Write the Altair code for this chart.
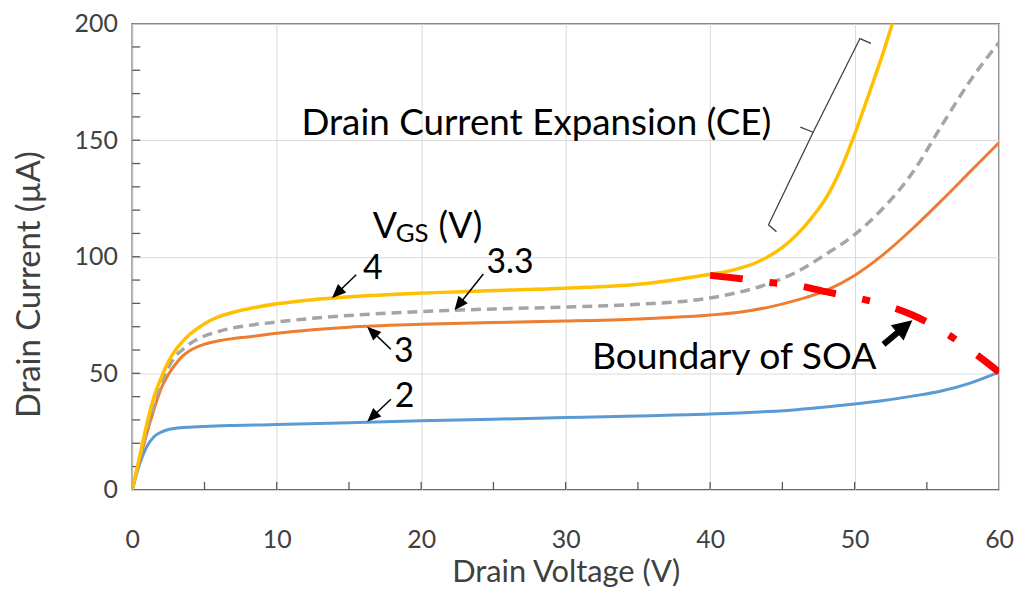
import math
import altair as alt
import pandas as pd

# ---------------- data ----------------
V_vgs2 = [0, 0.5, 1, 1.5, 2, 2.5, 3, 4, 5, 7, 10, 15, 20, 25, 30, 35, 40, 42, 44, 46, 48, 50, 52, 54, 56, 58, 60]
I_vgs2 = [0, 11, 18.5, 22.8, 24.8, 25.9, 26.4, 26.9, 27.2, 27.6, 28.0, 28.8, 29.6, 30.3, 31.0, 31.7, 32.5,
          33.0, 33.6, 34.4, 35.5, 36.8, 38.3, 40.2, 42.4, 45.8, 50.5]
V_vgs3 = [0, 0.5, 1, 1.5, 2, 2.5, 3, 3.5, 4, 5, 6, 7, 8, 10, 12.5, 15, 20, 25, 30, 35, 40, 42, 44, 46, 48,
          50, 52, 54, 56, 58, 60]
I_vgs3 = [0, 12.5, 24, 34.5, 43.5, 49.5, 54, 57.5, 59.8, 62.5, 64, 64.9, 65.6, 67.2, 68.7, 69.8, 71.0, 71.8,
          72.4, 73.3, 75.0, 76.2, 78.3, 81.4, 85.5, 92, 101, 112, 124, 136.5, 149]
V_vgs33 = [0, 0.5, 1, 1.5, 2, 2.5, 3, 3.5, 4, 5, 6, 7, 8, 10, 12.5, 15, 20, 25, 30, 35, 40, 42, 44, 46, 48,
           50, 52, 54, 56, 58, 60]
I_vgs33 = [0, 13, 25.5, 36.5, 46, 52.5, 57.4, 60.2, 62.7, 66, 68, 69.5, 70.5, 72, 73.6, 74.8, 76.5, 77.6, 78.4,
           79.6, 82.3, 84.8, 88.3, 93.5, 101, 109.5, 121, 136, 156, 175.5, 192]
V_vgs4 = [0, 0.5, 1, 1.5, 2, 2.5, 3, 3.5, 4, 5, 6, 7, 8, 10, 12.5, 15, 20, 25, 30, 35, 40, 41, 42, 43, 44,
          45, 46, 47, 48, 49, 50, 51, 52, 53]
I_vgs4 = [0, 14, 28, 39.8, 48, 55, 60, 63.8, 66.8, 71.3, 74.3, 76.2, 77.6, 79.8, 81.6, 82.8, 84.4, 85.5,
          86.5, 88.2, 92.5, 93.5, 95, 97, 100, 104, 109.5, 116.5, 125, 137, 152.5, 170, 188, 208]
SOA_V = [40, 42, 44, 46, 48, 50, 52, 54, 56, 58, 60]
SOA_I = [92, 90.7, 89, 87.8, 85, 82.5, 79.5, 75, 68.5, 60, 50.5]

x_ticks = [0, 10, 20, 30, 40, 50, 60]
y_ticks = [0, 50, 100, 150, 200]
x_minor = [5, 10, 15, 20, 25, 30, 35, 40, 45, 50, 55]
y_minor = [10, 20, 30, 40, 50, 60, 70, 80, 90, 100, 110, 120, 130, 140, 150, 160, 170, 180, 190]

# annotation arrows: tail (V, I) -> head (V, I)
arrow_tail_V = [15.5, 17.9, 17.9, 24.3]
arrow_tail_I = [92.3, 60.3, 38.9, 92.6]
arrow_head_V = [13.83, 16.26, 16.26, 22.3]
arrow_head_I = [82.3, 70.0, 29.2, 77.0]
soa_arrow_tail = (52.0, 62.4)
soa_arrow_head = (54.0, 72.8)

# bracket for current expansion
bracket_V = [44.59, 44.04, 47.13, 50.37, 51.13]
bracket_I = [110.7, 113.7, 153.4, 193.6, 191.5]
bracket_tick_V = [47.13, 46.24]
bracket_tick_I = [153.4, 155.6]

FONT = "Lato"
W, H = 872, 469
PXV = W / 60.0
PXI = H / 200.0

xs = alt.Scale(domain=[0, 60], nice=False, zero=False)
ys = alt.Scale(domain=[0, 200], nice=False, zero=False)

X_AXIS = alt.Axis(
    values=x_ticks, title="Drain Voltage (V)", grid=True, gridColor="#D9D9D9", gridWidth=1,
    domain=False, ticks=False, tickSize=0, labelPadding=38, labelFont=FONT, labelFontSize=25,
    labelColor="#404040", titleFont=FONT, titleFontSize=31, titleFontWeight="normal",
    titleColor="#404040", titleY=83, titleBaseline="middle", labelFlush=False)
Y_AXIS = alt.Axis(
    values=y_ticks, title="Drain Current (µA)", grid=True, gridColor="#D9D9D9", gridWidth=1,
    domain=False, ticks=False, tickSize=0, labelPadding=15, labelFont=FONT, labelFontSize=25,
    labelColor="#404040", titleFont=FONT, titleFontSize=33, titleFontWeight="normal",
    titleColor="#404040", titleX=-103, titleY=262, titleBaseline="middle", titleAngle=-90,
    labelFlush=False)


def X(f="V"):
    return alt.X(f, type="quantitative", scale=xs, axis=X_AXIS)


def Y(f="I"):
    return alt.Y(f, type="quantitative", scale=ys, axis=Y_AXIS)


# inner minor ticks
xt = alt.Chart(pd.DataFrame({"V": x_minor})).mark_rule(color="#595959", strokeWidth=1.3).encode(
    x=X("V"), y=alt.value(H), y2=alt.value(H - 8))
yt = alt.Chart(pd.DataFrame({"I": y_minor})).mark_rule(color="#595959", strokeWidth=1.3).encode(
    y=Y("I"), x=alt.value(0), x2=alt.value(8))


def curve(vs, is_, color, width, dash=None):
    kw = dict(color=color, strokeWidth=width, interpolate="monotone", clip=True)
    if dash:
        kw["strokeDash"] = dash
    return alt.Chart(pd.DataFrame({"V": vs, "I": is_})).mark_line(**kw).encode(x=X(), y=Y())


blue = curve(V_vgs2, I_vgs2, "#5B9BD5", 3)
orange = curve(V_vgs3, I_vgs3, "#ED7D31", 3)
gray = curve(V_vgs33, I_vgs33, "#A5A5A5", 3.5, [10, 6])
yellow = curve(V_vgs4, I_vgs4, "#FFC000", 3.5)
soa = alt.Chart(pd.DataFrame({"V": SOA_V, "I": SOA_I})).mark_line(
    color="#FF0000", strokeWidth=7, strokeDash=[33, 27, 8, 27], strokeCap="butt",
    interpolate="monotone", clip=True).encode(x=X(), y=Y())

# bracket
br_df = pd.DataFrame({
    "V": bracket_V + bracket_tick_V,
    "I": bracket_I + bracket_tick_I,
    "seg": ["a"] * len(bracket_V) + ["b"] * len(bracket_tick_V),
    "o": list(range(len(bracket_V))) + list(range(len(bracket_tick_V))),
})
bracket = alt.Chart(br_df).mark_line(color="#404040", strokeWidth=1.3).encode(
    x=X(), y=Y(), detail="seg:N", order="o:Q")


# arrows
def arrow_rows(tv, ti, hv, ii, head_len):
    dx = (hv - tv) * PXV
    dy = -(ii - ti) * PXI  # screen
    ang = math.degrees(math.atan2(dx, -dy)) % 360
    L = math.hypot(dx, dy)
    f = max(0.0, (L - head_len * 0.7) / L)
    ev = tv + (hv - tv) * f
    ei = ti + (ii - ti) * f
    return dict(V0=tv, I0=ti, V1=ev, I1=ei, HV=hv, HI=ii, ang=ang)


thin = pd.DataFrame([arrow_rows(arrow_tail_V[k], arrow_tail_I[k], arrow_head_V[k], arrow_head_I[k], 14)
                     for k in range(len(arrow_tail_V))])
thick = pd.DataFrame([arrow_rows(soa_arrow_tail[0], soa_arrow_tail[1], soa_arrow_head[0], soa_arrow_head[1], 20)])

HEAD = "M0,0 L-0.85,2 L0.85,2 Z"
HEAD_THICK = "M0,0 L-1,2 L1,2 Z"

thin_shaft = alt.Chart(thin).mark_rule(color="black", strokeWidth=1.5).encode(
    x=X("V0"), y=Y("I0"), x2="V1", y2="I1")
thin_head = alt.Chart(thin).mark_point(shape=HEAD, filled=True, color="black", opacity=1,
                                       size=196, strokeWidth=0).encode(
    x=X("HV"), y=Y("HI"), angle=alt.Angle("ang:Q", scale=None))
thick_shaft = alt.Chart(thick).mark_rule(color="black", strokeWidth=6).encode(
    x=X("V0"), y=Y("I0"), x2="V1", y2="I1")
thick_head = alt.Chart(thick).mark_point(shape=HEAD_THICK, filled=True, color="black", opacity=1,
                                         size=400, strokeWidth=0).encode(
    x=X("HV"), y=Y("HI"), angle=alt.Angle("ang:Q", scale=None))

# texts
txt_center = pd.DataFrame({
    "t": ["Drain Current Expansion (CE)", "Boundary of SOA", "4", "3", "2", "3.3"],
    "V": [27.97, 41.66, 16.65, 18.8, 18.85, 26.15],
    "I": [152.1, 51.7, 90.6, 54.7, 35.5, 93.2],
    "fs": [37, 37.5, 34, 34, 34, 34],
})
texts = alt.Chart(txt_center).mark_text(font=FONT, color="black", align="center",
                                         baseline="alphabetic").encode(
    x=X(), y=Y(), text="t:N", size=alt.Size("fs:Q", scale=None))

txt_left = pd.DataFrame({
    "t": ["V", "GS", "(V)"],
    "V": [16.65, 18.23, 21.2],
    "I": [108.1, 106.4, 108.1],
    "fs": [36, 26, 36],
})
texts_l = alt.Chart(txt_left).mark_text(font=FONT, color="black", align="left",
                                         baseline="alphabetic").encode(
    x=X(), y=Y(), text="t:N", size=alt.Size("fs:Q", scale=None))

chart = alt.layer(
    xt, yt, blue, orange, gray, yellow, soa, bracket,
    thin_shaft, thin_head, thick_shaft, thick_head, texts, texts_l,
).properties(
    width=W, height=H,
    autosize=alt.AutoSizeParams(type="none"),
    padding={"left": 125, "top": 14, "right": 16, "bottom": 99},
).configure_view(stroke="#595959", strokeWidth=1.5)

chart.save("out.html", embed_options={"renderer": "svg", "actions": False})
